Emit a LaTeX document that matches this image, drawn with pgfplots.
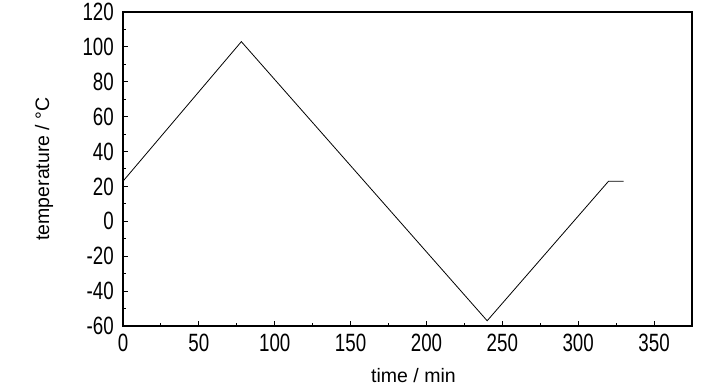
\documentclass[border=0pt]{standalone}
\usepackage{fontspec}
\setmainfont{Liberation Sans}
\usepackage{graphicx}
\usepackage{pgfplots}
\pgfplotsset{compat=1.18}
\begin{document}
\begin{tikzpicture}
\begin{axis}[
  scale only axis,
  width=569pt, height=314pt,
  xmin=0, xmax=375, ymin=-60, ymax=120,
  xtick={0,50,...,350}, ytick={-60,-40,...,120},
  minor x tick num=1, minor y tick num=1,
  tick align=inside,
  xtick pos=bottom, ytick pos=left,
  major tick length=5pt, minor tick length=3pt,
  axis line style={line width=1.2pt},
  every tick/.style={black, line width=1pt},
  /pgf/number format/assume math mode=true,
  tick label style={font=\fontsize{25}{26}\selectfont, inner sep=0pt},
  xticklabel={\scalebox{0.75}[1]{\pgfmathprintnumber{\tick}}},
  yticklabel={\scalebox{0.75}[1]{\pgfmathprintnumber{\tick}}},
  xticklabel style={anchor=north, yshift=-8pt},
  yticklabel style={anchor=east, xshift=-9pt},
  xlabel={time / min}, ylabel={temperature / °C},
  xlabel style={font=\fontsize{19.5}{20}\selectfont, at={(axis description cs:0.5,0)}, anchor=base, yshift=-57pt, xshift=6pt},
  ylabel style={font=\fontsize{19.5}{20}\selectfont, at={(axis description cs:-0.1388,0.5)}, anchor=center},
  clip=false,
]
\addplot[black, line width=0.8pt, mark=none] coordinates {
(0,23) (78,103) (240,-57) (320,23) (330,23)
};
\coordinate (O) at (rel axis cs:0,0);
\end{axis}
\pgfresetboundingbox
\path[use as bounding box] (O) ++(-123pt,-64pt) rectangle ++(728pt,390pt);
\end{tikzpicture}
\end{document}
